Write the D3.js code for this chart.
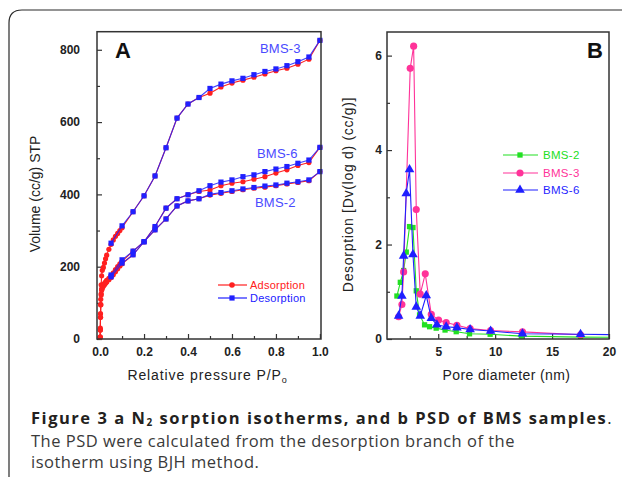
<!DOCTYPE html>
<html><head><meta charset="utf-8">
<script src="https://cdn.jsdelivr.net/npm/d3@7"></script>
<style>
body{margin:0;background:#fff}
svg{display:block}
text{font-family:"Liberation Sans",Arial,sans-serif}
text.cap{font-family:"Open Sans","Noto Sans",sans-serif}
</style>
</head><body>
<svg id="c" width="622" height="483"></svg>
<script>
// ---------- Panel A data: N2 sorption isotherms ----------
const desP = [1.0,0.95,0.9,0.85,0.8,0.75,0.7,0.65,0.6,0.55,0.5,0.45,0.4,0.35,0.3,0.25,0.2,0.15,0.1,0.05];
const bms3Des = [826,780,767,756,747,740,731,721,714,705,693,668,650,611,529,451,396,352,313,265];
const bms6Des = [530,495,486,477,470,463,454,449,440,434,424,410,399,388,362,311,269,243,219,177];
const bms2Des = [463,440,435,431,426,423,419,415,410,405,400,388,382,368,332,302,269,233,210,172];

const adsP = [0.0005,0.001,0.002,0.003,0.005,0.007,0.01,0.015,0.02,0.025,0.03,0.04,0.05,0.06,0.07,0.08,0.09,0.1,0.15,0.2,0.25,0.3,0.35,0.4,0.45,0.5,0.55,0.6,0.65,0.7,0.75,0.8,0.85,0.9,0.95,1.0];
const bms3Ads = [5,30,70,110,150,175,190,198,210,222,232,248,262,274,284,292,300,308,352,396,451,529,611,650,668,680,697,708,716,724,733,742,749,760,774,826];
const bms6Ads = [5,25,60,95,125,138,145,150,154,158,162,168,175,183,192,200,208,215,243,269,311,362,388,399,408,412,424,431,435,442,449,459,468,480,488,530];
const bms2Ads = [5,25,60,95,122,135,140,146,150,154,158,164,170,178,186,194,202,208,233,269,302,332,368,382,388,398,403,408,413,417,420,424,429,433,438,463];

const xTicksA = [0,0.2,0.4,0.6,0.8,1.0];
const xMinorA = [0.1,0.3,0.5,0.7,0.9];
const yTicksA = [0,200,400,600,800];
const yMinorA = [100,300,500,700];

// ---------- Panel B data: PSD ----------
const bms2D = [1.37,1.67,1.96,2.19,2.48,2.78,3.07,3.36,3.8,4.24,4.82,5.6,6.58,7.75,9.56,12.3,17.5,23];
const bms2V = [0.91,1.2,1.45,1.84,2.38,2.36,1.02,0.51,0.30,0.26,0.23,0.19,0.155,0.11,0.10,0.06,0.04,0.035];
const bms3D = [1.52,1.81,1.96,2.54,2.84,3.07,3.42,3.86,4.39,5.03,5.7,6.64,7.8,9.6,12.4,17.5];
const bms3V = [0.47,0.73,1.42,5.73,6.2,2.74,0.95,1.38,0.52,0.40,0.35,0.29,0.22,0.18,0.15,0.09];
const bms6D = [1.52,1.81,1.96,2.19,2.48,2.78,3.07,3.42,3.95,4.39,4.88,5.7,6.64,7.8,9.6,12.4,17.5,23];
const bms6V = [0.49,0.91,1.76,3.08,3.59,1.79,0.68,0.49,0.92,0.44,0.30,0.26,0.24,0.20,0.17,0.11,0.10,0.085];

const xTicksB = [5,10,15,20];
const xMinorB = [2.5,7.5,12.5,17.5];
const yTicksB = [0,2,4,6];
const yMinorB = [1,3,5];

const seriesB = [
  {name:"BMS-2", d:bms2D, v:bms2V, color:"#22e022", sym:d3.symbolSquare, size:28},
  {name:"BMS-3", d:bms3D, v:bms3V, color:"#ff3399", sym:d3.symbolCircle, size:40},
  {name:"BMS-6", d:bms6D, v:bms6V, color:"#1f1fff", sym:d3.symbolTriangle, size:40}
];

const redA = "#ff2020", blueA = "#2020ff", labelBlue = "#4a4aff", axisCol = "#333";

const svg = d3.select("#c");
svg.append("rect").attr("width",622).attr("height",483).attr("fill","#fff");

svg.append("path").attr("d","M9,477 L9,23 Q9,10 22,10 L622,10")
  .attr("fill","none").attr("stroke","#2a2a2a").attr("stroke-width",1.2);

function styleAxis(g, fs){
  g.select(".domain").remove();
  g.selectAll("line").attr("stroke",axisCol).attr("stroke-width",1.2);
  g.selectAll("text").attr("font-size",fs).attr("font-weight","bold").attr("fill","#222");
}

// ================= PANEL A =================
const xA = d3.scaleLinear().domain([-0.014,1.005]).range([97,321]);
const yA = d3.scaleLinear().domain([0,850]).range([339,31.7]);
const gA = svg.append("g");

gA.append("g").attr("transform",`translate(0,${yA(0)})`)
  .call(d3.axisBottom(xA).tickValues(xTicksA).tickFormat(d3.format(".1f")).tickSizeInner(-5).tickSizeOuter(0).tickPadding(8))
  .call(g=>styleAxis(g,12));
gA.append("g").attr("transform",`translate(0,${yA(0)})`)
  .call(d3.axisBottom(xA).tickValues(xMinorA).tickFormat("").tickSizeInner(-3).tickSizeOuter(0))
  .call(g=>styleAxis(g,12));
gA.append("g").attr("transform",`translate(${xA.range()[0]},0)`)
  .call(d3.axisLeft(yA).tickValues(yTicksA).tickFormat(d3.format("d")).tickSizeInner(-5).tickSizeOuter(0).tickPadding(17))
  .call(g=>styleAxis(g,12));
gA.append("g").attr("transform",`translate(${xA.range()[0]},0)`)
  .call(d3.axisLeft(yA).tickValues(yMinorA).tickFormat("").tickSizeInner(-3).tickSizeOuter(0))
  .call(g=>styleAxis(g,12));

const lineA = d3.line().x(d=>xA(d[0])).y(d=>yA(d[1]));
const adsSets = [bms3Ads,bms6Ads,bms2Ads];
const desSets = [bms3Des,bms6Des,bms2Des];

adsSets.forEach(arr=>{
  const pts = adsP.map((p,i)=>[p,arr[i]]);
  gA.append("path").datum(pts).attr("d",lineA).attr("fill","none").attr("stroke",redA).attr("stroke-width",1.1);
  gA.append("g").selectAll("circle").data(pts).join("circle")
    .attr("cx",d=>xA(d[0])).attr("cy",d=>yA(d[1])).attr("r",2.6).attr("fill",redA);
});
desSets.forEach(arr=>{
  const pts = desP.map((p,i)=>[p,arr[i]]);
  gA.append("path").datum(pts).attr("d",lineA).attr("fill","none").attr("stroke",blueA).attr("stroke-width",1.1).attr("stroke-opacity",0.85);
  gA.append("g").selectAll("rect").data(pts).join("rect")
    .attr("x",d=>xA(d[0])-2.6).attr("y",d=>yA(d[1])-2.6).attr("width",5.2).attr("height",5.2).attr("fill",blueA);
});

gA.append("rect").attr("x",97).attr("y",31.7).attr("width",224).attr("height",339-31.7)
  .attr("fill","none").attr("stroke",axisCol).attr("stroke-width",1.5);

gA.append("text").attr("x",115).attr("y",58).attr("font-size",22).attr("font-weight","bold").attr("fill","#111").text("A");

[["BMS-3",260,53],["BMS-6",257,158],["BMS-2",255,207]].forEach(([t,x,y])=>{
  gA.append("text").attr("x",x).attr("y",y).attr("font-size",13).attr("letter-spacing",0.2).attr("fill",labelBlue).text(t);
});

const legA = [{t:"Adsorption",c:redA,y:285,shape:"c"},{t:"Desorption",c:blueA,y:298,shape:"s"}];
legA.forEach(l=>{
  gA.append("line").attr("x1",218).attr("x2",247).attr("y1",l.y).attr("y2",l.y).attr("stroke",l.c).attr("stroke-width",1.2);
  if(l.shape==="c") gA.append("circle").attr("cx",232).attr("cy",l.y).attr("r",2.8).attr("fill",l.c);
  else gA.append("rect").attr("x",229.4).attr("y",l.y-2.6).attr("width",5.2).attr("height",5.2).attr("fill",l.c);
  gA.append("text").attr("x",250).attr("y",l.y+4).attr("font-size",11).attr("letter-spacing",0.25).attr("fill",l.c).text(l.t);
});

const xtA = gA.append("text").attr("x",207.5).attr("y",380).attr("text-anchor","middle")
  .attr("font-size",14).attr("letter-spacing",0.9).attr("fill","#222");
xtA.append("tspan").text("Relative pressure P/P");
xtA.append("tspan").attr("font-size",9).attr("baseline-shift","-30%").text("o");
gA.append("text").attr("transform","translate(40,194) rotate(-90)").attr("text-anchor","middle")
  .attr("font-size",14).attr("fill","#222").text("Volume (cc/g) STP");

// ================= PANEL B =================
const xB = d3.scaleLinear().domain([0.5,20]).range([387,609]);
const yB = d3.scaleLinear().domain([0,6.5]).range([339,32]);
const gB = svg.append("g");

svg.append("defs").append("clipPath").attr("id","clipB")
  .append("rect").attr("x",387).attr("y",32).attr("width",222).attr("height",307);

gB.append("g").attr("transform",`translate(0,${yB(0)})`)
  .call(d3.axisBottom(xB).tickValues(xTicksB).tickFormat(d3.format("d")).tickSizeInner(-5).tickSizeOuter(0).tickPadding(8))
  .call(g=>styleAxis(g,12));
gB.append("g").attr("transform",`translate(0,${yB(0)})`)
  .call(d3.axisBottom(xB).tickValues(xMinorB).tickFormat("").tickSizeInner(-3).tickSizeOuter(0))
  .call(g=>styleAxis(g,12));
gB.append("g").attr("transform",`translate(${xB.range()[0]},0)`)
  .call(d3.axisLeft(yB).tickValues(yTicksB).tickFormat(d3.format("d")).tickSizeInner(-5).tickSizeOuter(0).tickPadding(5))
  .call(g=>styleAxis(g,12));
gB.append("g").attr("transform",`translate(${xB.range()[0]},0)`)
  .call(d3.axisLeft(yB).tickValues(yMinorB).tickFormat("").tickSizeInner(-3).tickSizeOuter(0))
  .call(g=>styleAxis(g,12));

const lineB = d3.line().x(d=>xB(d[0])).y(d=>yB(d[1]));
const plotB = gB.append("g").attr("clip-path","url(#clipB)");
seriesB.forEach(s=>{
  const pts = s.d.map((d,i)=>[d,s.v[i]]);
  plotB.append("path").datum(pts).attr("d",lineB).attr("fill","none").attr("stroke",s.color).attr("stroke-width",1.1);
  plotB.append("g").selectAll("path").data(pts).join("path")
    .attr("transform",d=>`translate(${xB(d[0])},${yB(d[1])})`)
    .attr("d",d3.symbol().type(s.sym).size(s.size)).attr("fill",s.color);
});

gB.append("rect").attr("x",387).attr("y",32).attr("width",222).attr("height",307)
  .attr("fill","none").attr("stroke",axisCol).attr("stroke-width",1.5);

gB.append("text").attr("x",587).attr("y",58).attr("font-size",22).attr("font-weight","bold").attr("fill","#111").text("B");

const legY = [155,173,190];
seriesB.forEach((s,i)=>{
  const y = legY[i];
  gB.append("line").attr("x1",503).attr("x2",538).attr("y1",y).attr("y2",y).attr("stroke",s.color).attr("stroke-width",1.2);
  gB.append("path").attr("transform",`translate(520,${y})`).attr("d",d3.symbol().type(s.sym).size(s.size)).attr("fill",s.color);
  gB.append("text").attr("x",543).attr("y",y+4).attr("font-size",11.5).attr("letter-spacing",0.3).attr("fill",s.color).text(s.name);
});

gB.append("text").attr("x",506.5).attr("y",380).attr("text-anchor","middle")
  .attr("font-size",14).attr("letter-spacing",0.4).attr("fill","#222").text("Pore diameter (nm)");
gB.append("text").attr("transform","translate(353,194.5) rotate(-90)").attr("text-anchor","middle")
  .attr("font-size",14).attr("letter-spacing",0.7).attr("fill","#222").text("Desorption [Dv(log d) (cc/g)]");

// ================= CAPTION =================
const CAP_FS = 16.5;
const c1 = svg.append("text").attr("class","cap").attr("x",31).attr("y",424).attr("font-size",CAP_FS).attr("fill","#231f20");
c1.append("tspan").attr("font-weight","bold").text("Figure 3 a N");
c1.append("tspan").attr("font-weight","bold").attr("font-size",10).attr("baseline-shift","-15%").text("2");
c1.append("tspan").attr("font-weight","bold").text(" sorption isotherms, and b PSD of BMS samples");
c1.append("tspan").text(".");
const c2 = svg.append("text").attr("class","cap").attr("x",31).attr("y",447).attr("font-size",CAP_FS).attr("fill","#3a3a3a")
  .text("The PSD were calculated from the desorption branch of the");
const c3 = svg.append("text").attr("class","cap").attr("x",31).attr("y",468).attr("font-size",CAP_FS).attr("fill","#3a3a3a")
  .text("isotherm using BJH method.");

function fitSpacing(sel, target){
  const n = sel.text().length;
  const w = sel.node().getComputedTextLength();
  const ls = (target - w) / n;
  sel.attr("letter-spacing", ls);
  return ls;
}
fitSpacing(c1, 582);
const ls2 = fitSpacing(c2, 484);
c3.attr("letter-spacing", ls2);
</script>
</body></html>
